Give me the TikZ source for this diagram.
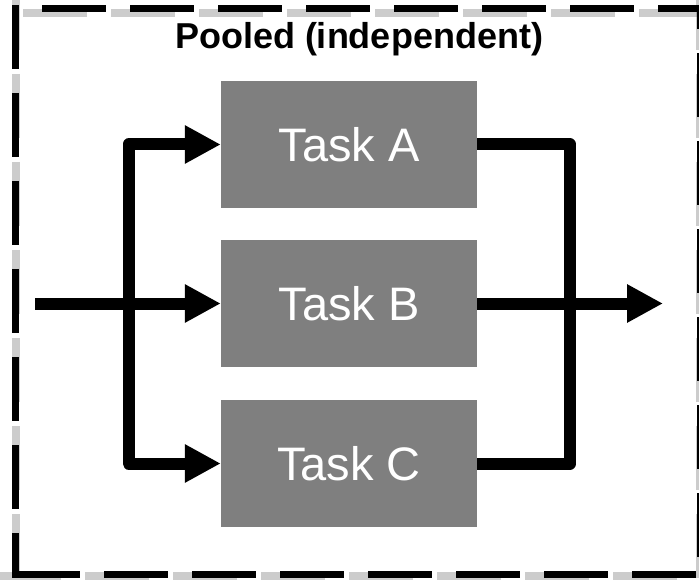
\documentclass[tikz,border=0pt]{standalone}
\usepackage{fontspec}
\setmainfont{Liberation Sans}
\usetikzlibrary{arrows.meta}
\definecolor{boxgray}{RGB}{127,127,127}
\begin{document}
\begin{tikzpicture}[x=1pt,y=-1pt,
  taskbox/.style={fill=boxgray, minimum width=256pt, minimum height=127pt, inner sep=0pt, text=white, font=\fontsize{47}{56}\selectfont},
  flow/.style={line width=12pt, line join=round},
  tipped/.style={-{Triangle[length=36pt,width=36pt]}},
  framedash/.style={line width=7pt, dash pattern=on 64pt off 24pt},
  frameshadow/.style={line width=8pt, black, opacity=0.2, dash pattern=on 64pt off 24pt},
  titletext/.style={font=\bfseries\fontsize{36}{43}\selectfont}
]
\useasboundingbox (0,0) rectangle (699,580);
% frame shadow
\draw[frameshadow] (16,-14) -- (16,590);
\draw[frameshadow] (23,13) -- (720,13);
\draw[frameshadow] (-3,576) -- (720,576);
\draw[frameshadow] (700,-14) -- (700,590);
% dashed frame
\draw[framedash] (15,5) -- (15,578);
\draw[framedash] (16,574.5) -- (720,574.5);
\draw[framedash] (42,8.5) -- (720,8.5);
\draw[framedash, dash phase=40pt] (700,5) -- (700,578);
% title
\node[titletext] (title) at (359,39) {Pooled (independent)};
% tasks
\node[taskbox] (A) at (349,144.5) {Task A};
\node[taskbox] (B) at (349,303.5) {Task B};
\node[taskbox] (C) at (349,463.5) {Task C};
% connectors
\coordinate (inL) at (35,303.5);
\coordinate (jl) at (128.5,303.5);
\coordinate (jr) at (570,303.5);
\coordinate (out) at (663,303.5);
\draw[flow, tipped] (jl) |- (A.west);
\draw[flow, tipped] (jl) |- (C.west);
\draw[flow, tipped] (inL) -- (B.west);
\draw[flow] (A.east) -| (jr);
\draw[flow] (C.east) -| (jr);
\draw[flow, tipped] (B.east) -- (out);
\end{tikzpicture}
\end{document}
